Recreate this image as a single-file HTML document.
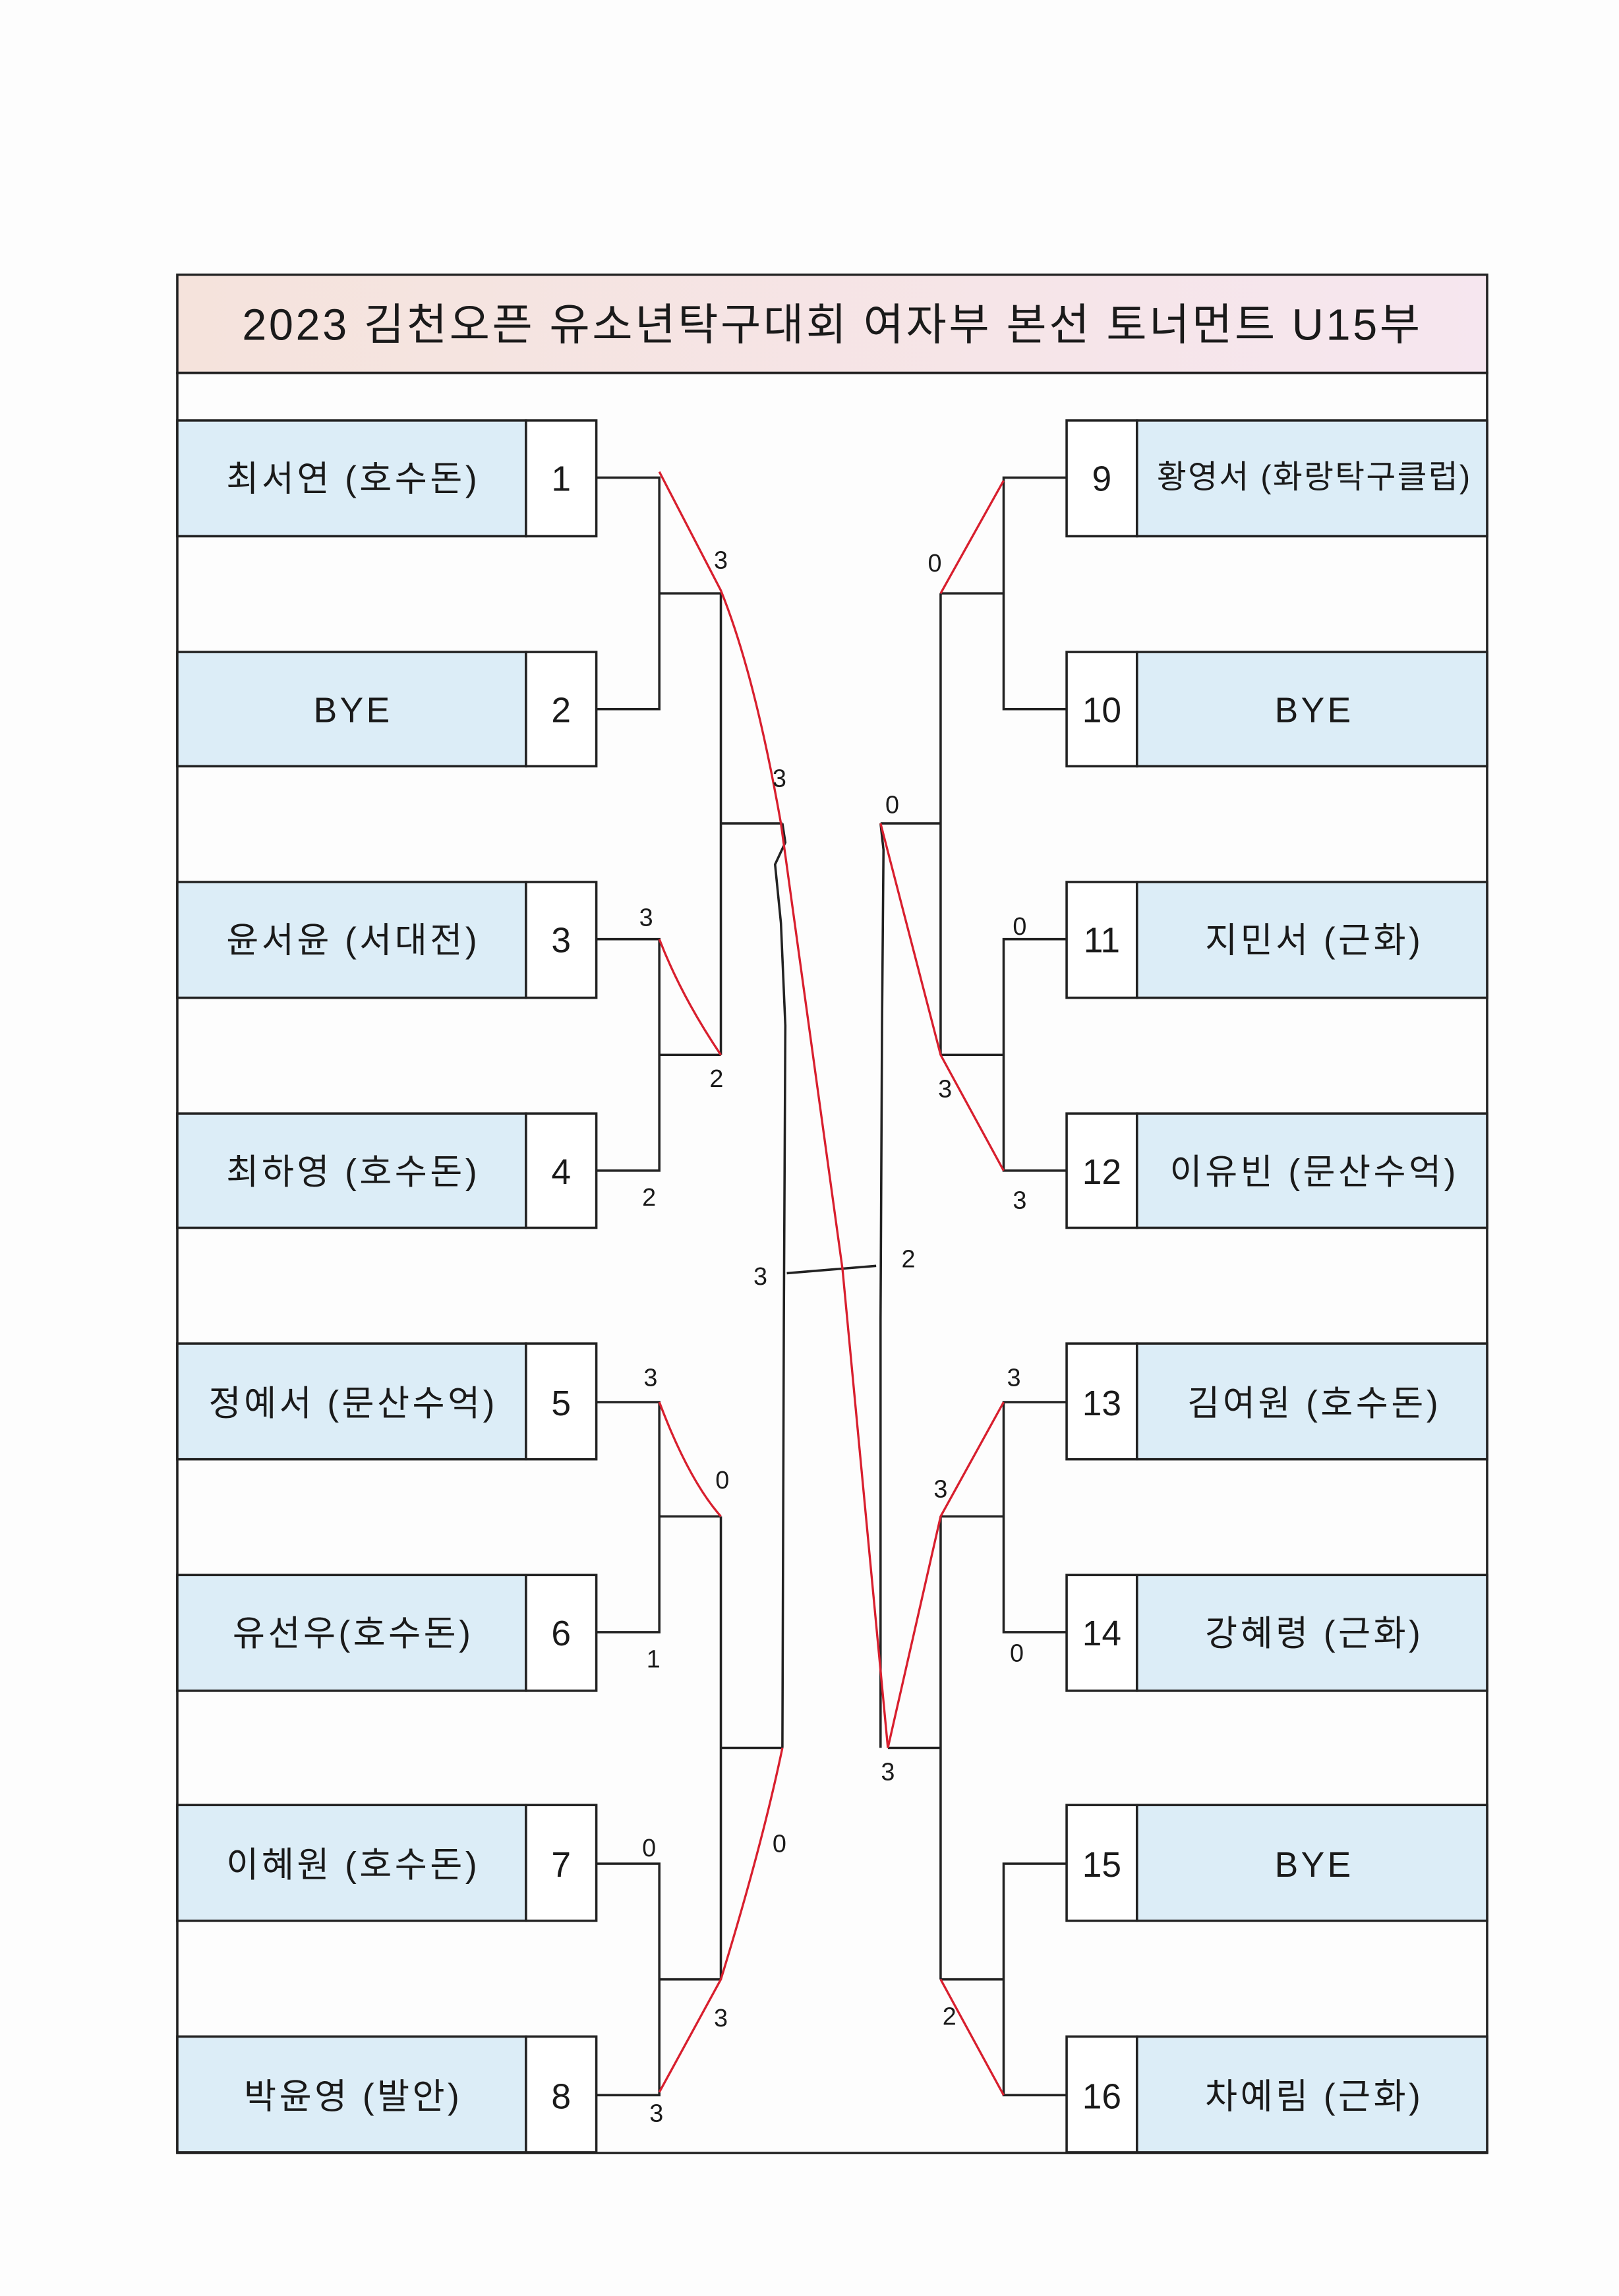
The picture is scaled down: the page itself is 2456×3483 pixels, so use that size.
<!DOCTYPE html>
<html><head><meta charset="utf-8"><style>
html,body{margin:0;padding:0;background:#fdfdfd;}
svg{display:block;}
text{font-family:"Liberation Sans","Noto Sans CJK KR",sans-serif;fill:#1a1a1a;}
.r{fill:#d81f2e;font-family:"Liberation Sans",sans-serif;font-size:17px;}
.n{letter-spacing:2px;}
</style></head><body>
<svg width="2456" height="3483" viewBox="0 0 1105 1567.1" xmlns="http://www.w3.org/2000/svg">
<defs><linearGradient id="tg" x1="0" x2="1"><stop offset="0" stop-color="#f5e3dc"/><stop offset="1" stop-color="#f6e6ef"/></linearGradient></defs>
<rect width="1105" height="1568" fill="#fdfdfd"/>
<rect x="121" y="187.5" width="894" height="67" fill="url(#tg)" stroke="#222" stroke-width="1.6"/>
<text x="568" y="232" font-size="30" letter-spacing="1.6" text-anchor="middle">2023 김천오픈 유소년탁구대회 여자부 본선 토너먼트 U15부</text>
<rect x="121" y="254.5" width="894" height="1215" fill="none" stroke="#222" stroke-width="1.6"/>
<g stroke="#222" stroke-width="1.6">
<g fill="#dcedf7"><rect x="121" y="287" width="238" height="79"/><rect x="121" y="445" width="238" height="78"/><rect x="121" y="602" width="238" height="79"/><rect x="121" y="760" width="238" height="78"/><rect x="121" y="917" width="238" height="79"/><rect x="121" y="1075" width="238" height="79"/><rect x="121" y="1232" width="238" height="79"/><rect x="121" y="1390" width="238" height="79"/>
<rect x="776" y="287" width="239" height="79"/><rect x="776" y="445" width="239" height="78"/><rect x="776" y="602" width="239" height="79"/><rect x="776" y="760" width="239" height="78"/><rect x="776" y="917" width="239" height="79"/><rect x="776" y="1075" width="239" height="79"/><rect x="776" y="1232" width="239" height="79"/><rect x="776" y="1390" width="239" height="79"/></g>
<g fill="#fff"><rect x="359" y="287" width="48" height="79"/><rect x="359" y="445" width="48" height="78"/><rect x="359" y="602" width="48" height="79"/><rect x="359" y="760" width="48" height="78"/><rect x="359" y="917" width="48" height="79"/><rect x="359" y="1075" width="48" height="79"/><rect x="359" y="1232" width="48" height="79"/><rect x="359" y="1390" width="48" height="79"/>
<rect x="728" y="287" width="48" height="79"/><rect x="728" y="445" width="48" height="78"/><rect x="728" y="602" width="48" height="79"/><rect x="728" y="760" width="48" height="78"/><rect x="728" y="917" width="48" height="79"/><rect x="728" y="1075" width="48" height="79"/><rect x="728" y="1232" width="48" height="79"/><rect x="728" y="1390" width="48" height="79"/></g>
<path fill="none" d="M407 326H450V484H407M450 405H492M407 641H450V799H407M450 720H492M492 405V720M492 562H534M407 957H450V1114H407M450 1035H492M407 1272H450V1430H407M450 1351H492M492 1035V1351M492 1193H534"/>
<path fill="none" d="M728 326H685V484H728M685 405H642M728 641H685V799H728M685 720H642M642 405V720M642 562H601M728 957H685V1114H728M685 1035H642M728 1272H685V1430H728M685 1351H642M642 1035V1351M642 1193H606"/>
<path fill="none" d="M534 562L536 575L529 590L533 630L536 700L535 900L534 1193M601 562L603 580L602 700L601 900L601 1193M537 869L598 864"/>
</g>
<g font-size="24" text-anchor="middle">
<g class="n">
<text x="241" y="335">최서연 (호수돈)</text><text x="241" y="493">BYE</text><text x="241" y="650">윤서윤 (서대전)</text><text x="241" y="808">최하영 (호수돈)</text><text x="241" y="966">정예서 (문산수억)</text><text x="241" y="1123">유선우(호수돈)</text><text x="241" y="1281">이혜원 (호수돈)</text><text x="241" y="1439">박윤영 (발안)</text>
<text x="897" y="493">BYE</text><text x="897" y="650">지민서 (근화)</text><text x="897" y="808">이유빈 (문산수억)</text><text x="897" y="966">김여원 (호수돈)</text><text x="897" y="1123">강혜령 (근화)</text><text x="897" y="1281">BYE</text><text x="897" y="1439">차예림 (근화)</text>
</g>
<text x="897" y="333" font-size="22" letter-spacing="1">황영서 (화랑탁구클럽)</text>
<text x="383" y="335">1</text><text x="383" y="493">2</text><text x="383" y="650">3</text><text x="383" y="808">4</text><text x="383" y="966">5</text><text x="383" y="1123">6</text><text x="383" y="1281">7</text><text x="383" y="1439">8</text>
<text x="752" y="335">9</text><text x="752" y="493">10</text><text x="752" y="650">11</text><text x="752" y="808">12</text><text x="752" y="966">13</text><text x="752" y="1123">14</text><text x="752" y="1281">15</text><text x="752" y="1439">16</text>
</g>
<g fill="none" stroke="#d81f2e" stroke-width="1.5">
<path d="M450 322L492 403Q515 460 533 562L575 866L606 1193"/>
<path d="M450 641Q465 680 492 720"/>
<path d="M450 957Q470 1010 492 1035"/>
<path d="M450 1428L492 1351Q520 1260 534 1193"/>
<path d="M685 328L642 405"/>
<path d="M601 562L642 720L685 799"/>
<path d="M685 957L642 1035L606 1193"/>
<path d="M642 1351L685 1430"/>
</g>
<g class="r" text-anchor="middle">
<text x="492" y="388">3</text><text x="532" y="537">3</text><text x="441" y="632">3</text><text x="489" y="742">2</text><text x="443" y="823">2</text>
<text x="444" y="946">3</text><text x="493" y="1016">0</text><text x="446" y="1138">1</text><text x="443" y="1267">0</text><text x="532" y="1264">0</text><text x="492" y="1383">3</text><text x="448" y="1448">3</text>
<text x="519" y="877">3</text><text x="620" y="865">2</text>
<text x="638" y="390">0</text><text x="609" y="555">0</text><text x="696" y="638">0</text><text x="645" y="749">3</text><text x="696" y="825">3</text>
<text x="692" y="946">3</text><text x="642" y="1022">3</text><text x="694" y="1134">0</text><text x="606" y="1215">3</text><text x="648" y="1382">2</text>
</g>
</svg>
</body></html>
